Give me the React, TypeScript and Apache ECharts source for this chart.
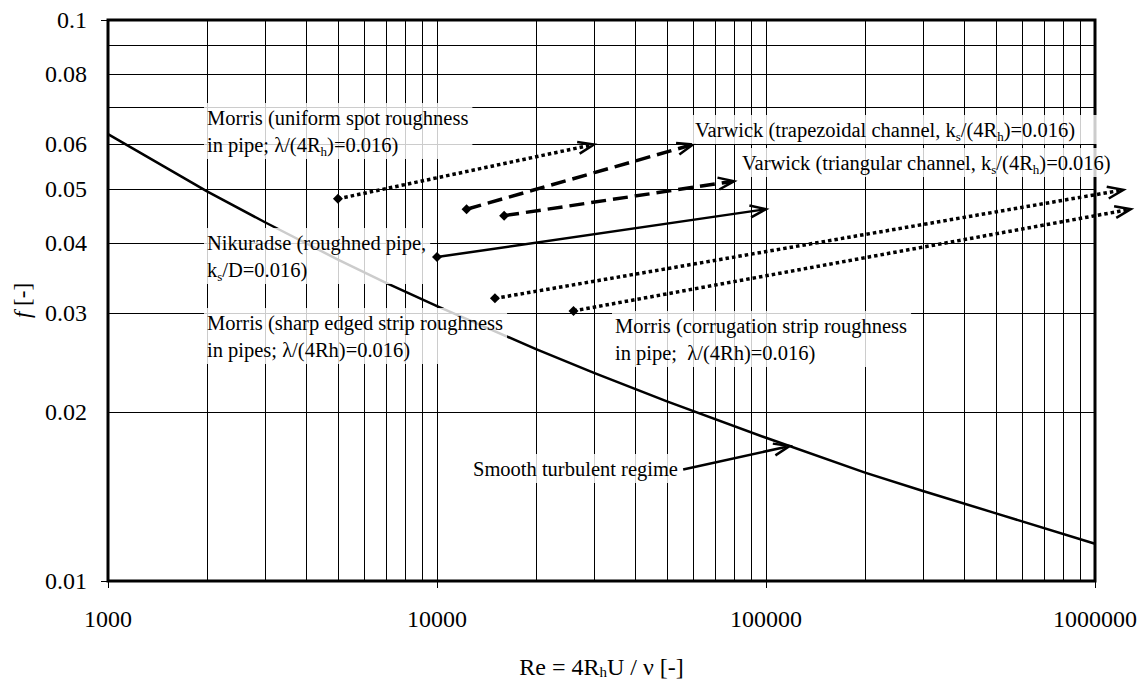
import { useEffect, useRef } from "react";
import * as echarts from "echarts";

// Axis ticks and grid positions
const reLabelTicks = [1000, 10000, 100000, 1000000];
const fLabelTicks = [0.01, 0.02, 0.03, 0.04, 0.05, 0.06, 0.08, 0.1];
const reGridLines = [
  2000, 3000, 4000, 5000, 6000, 7000, 8000, 9000,
  10000, 20000, 30000, 40000, 50000, 60000, 70000, 80000, 90000,
  100000, 200000, 300000, 400000, 500000, 600000, 700000, 800000, 900000,
];
const fGridLines = [0.02, 0.03, 0.04, 0.05, 0.06, 0.07, 0.08, 0.09];

// Smooth turbulent regime curve
const smoothRe = [1000, 2000, 3000, 5000, 7000, 10000, 20000, 30000, 50000, 100000, 200000, 300000, 500000, 1000000];
const smoothF = [0.0626, 0.0495, 0.0436, 0.0374, 0.0340, 0.0309, 0.0259, 0.0235, 0.0209, 0.0180, 0.0156, 0.01447, 0.0132, 0.01165];

// Arrows: start point (diamond) -> arrow tip
const arrowStartRe = [5000, 12300, 16000, 10000, 15000, 26000, 56000];
const arrowStartF = [0.048, 0.046, 0.0448, 0.0378, 0.0319, 0.0303, 0.0158];
const arrowEndRe = [30000, 60000, 80000, 100000, 1220000, 1285000, 118000];
const arrowEndF = [0.06, 0.06, 0.0516, 0.046, 0.0498, 0.046, 0.0174];
// 0 = solid, 1 = dashed, 2 = dotted
const arrowStroke = [2, 1, 1, 0, 2, 2, 0];
const arrowHasMarker = [1, 1, 1, 1, 1, 1, 0];

const SERIF = "Liberation Serif";

const subRich = {
  sub: { fontSize: 13, lineHeight: 17, verticalAlign: "bottom", fontFamily: SERIF, fill: "#000" },
};

const annotations = [
  { x: 204, y: 103, padRight: 4, text: "Morris (uniform spot roughness\nin pipe; λ/(4R{sub|h})=0.016)" },
  { x: 692, y: 115, padRight: 44, text: "Varwick (trapezoidal channel, k{sub|s}/(4R{sub|h})=0.016)" },
  { x: 739, y: 148, padRight: 22, text: "Varwick (triangular channel, k{sub|s}/(4R{sub|h})=0.016)" },
  { x: 204, y: 228, padRight: 4, text: "Nikuradse (roughned pipe,\nk{sub|s}/D=0.016)" },
  { x: 204, y: 308, padRight: 4, text: "Morris (sharp edged strip roughness\nin pipes; λ/(4Rh)=0.016)" },
  { x: 612, y: 311, padRight: 4, text: "Morris (corrugation strip roughness\nin pipe;  λ/(4Rh)=0.016)" },
  { x: 470, y: 454, padRight: 4, text: "Smooth turbulent regime" },
];

export default function App() {
  const ref = useRef<HTMLDivElement>(null);

  useEffect(() => {
    if (!ref.current) return;
    const chart = echarts.init(ref.current, null, { renderer: "svg" });

    const arrowData = arrowStartRe.map((r, i) => [
      r,
      arrowStartF[i],
      arrowEndRe[i],
      arrowEndF[i],
      arrowStroke[i],
      arrowHasMarker[i],
    ]);

    const option: any = {
      animation: false,
      backgroundColor: "#fff",
      textStyle: { fontFamily: SERIF },
      grid: {
        left: 108,
        right: 50,
        top: 20,
        bottom: 99,
        outerBoundsMode: "none",
        containLabel: false,
        show: true,
        borderColor: "#000",
        borderWidth: 3,
        backgroundColor: "transparent",
      },
      xAxis: {
        type: "log",
        logBase: 10,
        min: 1000,
        max: 1000000,
        name: "Re = 4R{sub|h}U / ν [-]",
        nameLocation: "middle",
        nameGap: 73,
        nameTextStyle: {
          fontFamily: SERIF,
          fontSize: 24,
          color: "#000",
          rich: { sub: { fontSize: 15, fontFamily: SERIF, color: "#000", padding: [10, 0, 0, 0] } },
        },
        axisLine: { show: false },
        axisTick: { show: true, inside: false, length: 7, lineStyle: { color: "#000", width: 1 } },
        axisLabel: {
          margin: 26,
          fontFamily: SERIF,
          fontSize: 24,
          color: "#000",
          customValues: reLabelTicks,
          formatter: (v: number) => String(Math.round(v)),
        },
        splitLine: { show: false },
      },
      yAxis: {
        type: "log",
        logBase: 10,
        min: 0.01,
        max: 0.1,
        name: "{i|f} [-]",
        nameLocation: "middle",
        nameGap: 73,
        nameTextStyle: {
          fontFamily: SERIF,
          fontSize: 23,
          color: "#000",
          rich: { i: { fontStyle: "italic", fontFamily: SERIF, fontSize: 23, color: "#000" } },
        },
        axisLine: { show: false },
        axisTick: { show: true, inside: false, length: 7, lineStyle: { color: "#000", width: 1 } },
        axisLabel: {
          margin: 21,
          fontFamily: SERIF,
          fontSize: 24,
          color: "#000",
          customValues: fLabelTicks,
          formatter: (v: number) => String(Number(v.toFixed(2))),
        },
        splitLine: { show: false },
      },
      series: [
        {
          name: "Smooth turbulent regime",
          type: "line",
          z: 2,
          data: smoothRe.map((r, i) => [r, smoothF[i]]),
          showSymbol: false,
          symbol: "none",
          lineStyle: { color: "#000", width: 2.5 },
          markLine: {
            silent: true,
            symbol: "none",
            animation: false,
            label: { show: false },
            lineStyle: { color: "#000", width: 1, type: "solid" },
            emphasis: { disabled: true },
            data: [
              ...reGridLines.map((v) => ({ xAxis: v })),
              ...fGridLines.map((v) => ({ yAxis: v })),
            ],
          },
        },
        {
          name: "Arrows",
          type: "custom",
          z: 3,
          clip: false,
          silent: true,
          encode: { x: [0, 2], y: [1, 3] },
          data: arrowData,
          renderItem: (params: any, api: any) => {
            const p1 = api.coord([api.value(0), api.value(1)]);
            const p2 = api.coord([api.value(2), api.value(3)]);
            const kind = api.value(4);
            const marker = api.value(5);
            const ang = Math.atan2(p2[1] - p1[1], p2[0] - p1[0]);
            const headLen = 17;
            const spread = 0.36;
            const h1 = [p2[0] - headLen * Math.cos(ang - spread), p2[1] - headLen * Math.sin(ang - spread)];
            const h2 = [p2[0] - headLen * Math.cos(ang + spread), p2[1] - headLen * Math.sin(ang + spread)];
            const dash = kind === 1 ? [15, 7] : kind === 2 ? [3.5, 3] : null;
            const width = kind === 0 ? 2.5 : 3.5;
            // shaft stops a little short of the tip so the head stays crisp
            const shaftEnd = [p2[0] - 3 * Math.cos(ang), p2[1] - 3 * Math.sin(ang)];
            const children: any[] = [
              {
                type: "line",
                shape: { x1: p1[0], y1: p1[1], x2: shaftEnd[0], y2: shaftEnd[1] },
                style: { stroke: "#000", lineWidth: width, lineDash: dash, lineCap: "butt", fill: null },
              },
              {
                type: "polyline",
                shape: { points: [h1, p2, h2] },
                style: { stroke: "#000", lineWidth: 2.5, fill: null, lineJoin: "miter" },
              },
            ];
            if (marker) {
              const s = 5;
              children.push({
                type: "polygon",
                shape: {
                  points: [
                    [p1[0], p1[1] - s],
                    [p1[0] + s, p1[1]],
                    [p1[0], p1[1] + s],
                    [p1[0] - s, p1[1]],
                  ],
                },
                style: { fill: "#000", stroke: null },
              });
            }
            return { type: "group", children };
          },
        },
      ],
      graphic: annotations.map((a) => ({
        type: "text",
        x: a.x,
        y: a.y,
        z: 100,
        silent: true,
        style: {
          text: a.text,
          fontFamily: SERIF,
          fontSize: 20.5,
          lineHeight: 27,
          fill: "#000",
          verticalAlign: "top",
          align: "left",
          backgroundColor: "rgba(255,255,255,0.8)",
          padding: [1, a.padRight, 1, 3],
          rich: subRich,
        },
      })),
    };

    chart.setOption(option);
    return () => chart.dispose();
  }, []);

  return (
    <div
      ref={ref}
      style={{ position: "fixed", left: 0, top: 0, width: 1145, height: 680, background: "#fff" }}
    />
  );
}
